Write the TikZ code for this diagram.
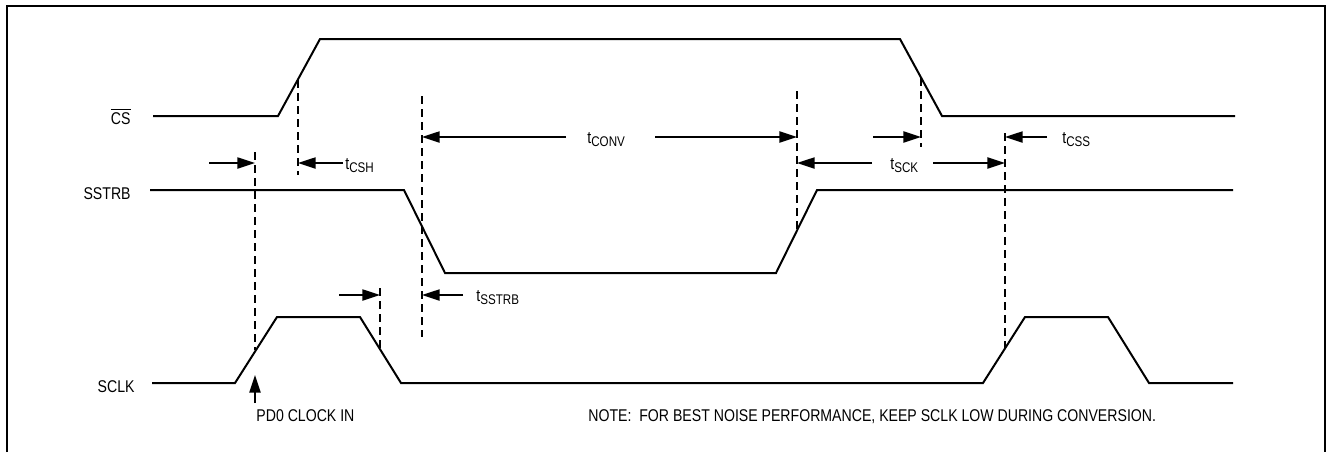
\documentclass[tikz,border=0pt]{standalone}
\usepackage{fontspec}
\setmainfont[FakeStretch=0.83]{Liberation Sans}
\usepackage{tikz}
\usetikzlibrary{arrows.meta}
\usetikzlibrary{calc}
\tikzstyle{signal}=[line width=1pt,line join=miter]
\tikzstyle{guide}=[line width=1pt,dash pattern=on 4pt off 2.5pt]
\tikzstyle{timing}=[line width=1pt,-{Triangle[length=8.8pt,width=5.5pt]}]
\tikzstyle{signame}=[inner sep=0pt,anchor=base east,font=\fontsize{8.5}{10}\selectfont]
\tikzstyle{param}=[inner sep=0pt,anchor=base west,font=\fontsize{8.5}{10}\selectfont]
\newcommand{\tsub}[1]{t\raisebox{-1.5pt}{\fontsize{7}{8}\selectfont #1}}

\begin{document}
\begin{tikzpicture}[x=0.5pt,y=-0.5pt]
\useasboundingbox (0,0) rectangle (1330,452);
\draw[line width=1.3pt] (7,452) -- (7,6) -- (1325,6) -- (1325,452);
%Signal names
\node[signame] (cs) at (131,124) {$\overline{\mbox{CS}}$};
\node[signame] (sstrb) at (131,199) {SSTRB};
\node[signame] (sclk) at (135,392) {SCLK};
%Waveforms
\draw[signal] (153,116) -- (278,116) -- (320,39) -- (900,39) -- (942,116) -- (1235,116);
\draw[signal] (150,190) -- (404,190) -- (445,273) -- (776,273) -- (817,190) -- (1233,190);
\draw[signal] (152,383) -- (235,383) -- (277,317) -- (360,317) -- (401,383) -- (983,383)
  -- (1025,317) -- (1108,317) -- (1149,383) -- (1233,383);
%Guides
\coordinate (g1t) at (255,152); \coordinate (g1b) at (255,350);
\coordinate (g2t) at (298,80);  \coordinate (g2b) at (298,175);
\coordinate (g3t) at (422,96);  \coordinate (g3b) at (422,337);
\coordinate (g4t) at (797,91);  \coordinate (g4b) at (797,231);
\coordinate (g5t) at (921,78);  \coordinate (g5b) at (921,147);
\coordinate (g6t) at (1005,133); \coordinate (g6b) at (1005,348);
\coordinate (g7t) at (380,288); \coordinate (g7b) at (380,349);
\foreach \g in {1,...,7} \draw[guide] (g\g t) -- (g\g b);
%Timing arrows
\coordinate (a1) at (209,163);  \draw[timing] (a1) -- (a1 -| g1t);
\coordinate (a2) at (343,163);  \draw[timing] (a2) -- (a2 -| g2t);
\coordinate (a3) at (566,137);  \draw[timing] (a3) -- (a3 -| g3t);
\coordinate (a4) at (655,137);  \draw[timing] (a4) -- (a4 -| g4t);
\coordinate (a5) at (463,295);  \draw[timing] (a5) -- (a5 -| g3t);
\coordinate (a6) at (339,295);  \draw[timing] (a6) -- (a6 -| g7t);
\coordinate (a7) at (872,163);  \draw[timing] (a7) -- (a7 -| g4t);
\coordinate (a8) at (933,163);  \draw[timing] (a8) -- (a8 -| g6t);
\coordinate (a9) at (873,137);  \draw[timing] (a9) -- (a9 -| g5t);
\coordinate (a10) at (1047,137); \draw[timing] (a10) -- (a10 -| g6t);
\coordinate (pd) at (255,403); \coordinate (pdtip) at (255,375);
\draw[timing] (pd) -- (pdtip);
%Labels
\node[param] (tcsh) at (345,169) {\tsub{CSH}};
\node[param] (tconv) at (587,143) {\tsub{CONV}};
\node[param] (tsstrb) at (476,301) {\tsub{SSTRB}};
\node[param] (tsck) at (890,169) {\tsub{SCK}};
\node[param] (tcss) at (1062,143) {\tsub{CSS}};
\node[param] (pdclk) at (256,421) {PD0 CLOCK IN};
\node[param] (note) at (588,421) {NOTE:\ \ FOR BEST NOISE PERFORMANCE, KEEP SCLK LOW DURING CONVERSION.};
\end{tikzpicture}
\end{document}
